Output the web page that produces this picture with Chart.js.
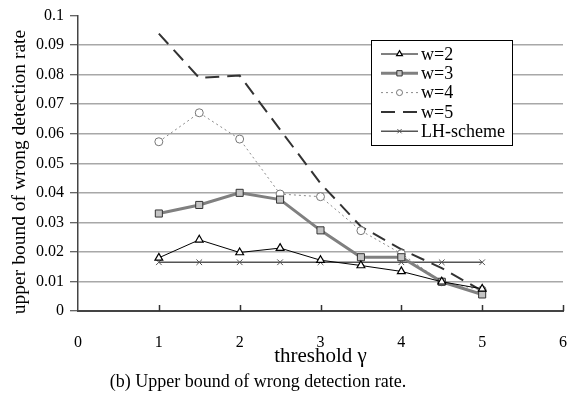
<!DOCTYPE html>
<html>
<head>
<meta charset="utf-8">
<script src="https://cdn.jsdelivr.net/npm/chart.js@4/dist/chart.umd.min.js"></script>
<style>
  html, body { margin: 0; padding: 0; background: #fff; }
  #wrap { width: 573px; height: 401px; }
</style>
</head>
<body>
<div id="wrap"><canvas id="grafico" width="573" height="401"></canvas></div>
<script>
// threshold values (x) and the rates for each scheme
const thresholds = [1, 1.5, 2, 2.5, 3, 3.5, 4, 4.5, 5];
const w2 = [0.0180, 0.0241, 0.0198, 0.0213, 0.0172, 0.0154, 0.0134, 0.0099, 0.0075];
const w3 = [0.0330, 0.0359, 0.0400, 0.0377, 0.0273, 0.0182, 0.0182, 0.0099, 0.0056];
const w4 = [0.0573, 0.0671, 0.0582, 0.0396, 0.0387, 0.0272, 0.0194, 0.0099, 0.0071];
const w5 = [0.0939, 0.0789, 0.0797, 0.0614, 0.0432, 0.0286, 0.0209, 0.0145, 0.0068];
const lhScheme = [0.0165, 0.0165, 0.0165, 0.0165, 0.0165, 0.0165, 0.0165, 0.0165, 0.0165];
const xTicks = [0, 1, 2, 3, 4, 5, 6];
const yTitle = "upper bound of wrong detection rate";
const caption = "(b) Upper bound of wrong detection rate.";

const serif = "'Liberation Serif', 'Times New Roman', serif";

function toPoints(values) {
    return thresholds.map((x, i) => ({ x: x, y: values[i] }));
}

const datasets = [
    {
        label: "w=2", data: toPoints(w2),
        borderColor: "#000", borderWidth: 1,
        pointStyle: "triangle", pointRadius: 4.5,
        pointBackgroundColor: "#fff", pointBorderColor: "#000", pointBorderWidth: 1.2
    },
    {
        label: "w=3", data: toPoints(w3),
        borderColor: "#808080", borderWidth: 3,
        pointStyle: "rect", pointRadius: 5,
        pointBackgroundColor: "#c4c4c4", pointBorderColor: "#333", pointBorderWidth: 1
    },
    {
        label: "w=4", data: toPoints(w4),
        borderColor: "#8a8a8a", borderWidth: 1, borderDash: [2, 3],
        pointStyle: "circle", pointRadius: 4,
        pointBackgroundColor: "#fff", pointBorderColor: "#777", pointBorderWidth: 1
    },
    {
        label: "w=5", data: toPoints(w5),
        borderColor: "#333", borderWidth: 2, borderDash: [14, 8],
        pointRadius: 0
    },
    {
        label: "LH-scheme", data: toPoints(lhScheme),
        borderColor: "#555", borderWidth: 1.5,
        pointStyle: "crossRot", pointRadius: 4,
        pointBorderColor: "#555", pointBorderWidth: 1
    }
];

// inward tick marks on the x axis
const xInnerTicks = {
    id: "xInnerTicks",
    afterDraw(chart) {
        const ctx = chart.ctx, sx = chart.scales.x, bottom = chart.chartArea.bottom;
        ctx.save();
        ctx.strokeStyle = "#333";
        ctx.lineWidth = 1.5;
        xTicks.slice(1).forEach(v => {
            const px = Math.round(sx.getPixelForValue(v)) + 0.5;
            ctx.beginPath();
            ctx.moveTo(px, bottom);
            ctx.lineTo(px, bottom - 6);
            ctx.stroke();
        });
        ctx.restore();
    }
};

// boxed legend inside the plot, with line + marker samples
const boxLegend = {
    id: "boxLegend",
    afterDraw(chart) {
        const ctx = chart.ctx;
        const bx = 371.5, by = 40.5, bw = 141, bh = 105;
        ctx.save();
        ctx.fillStyle = "#fff";
        ctx.fillRect(bx, by, bw, bh);
        ctx.strokeStyle = "#000";
        ctx.lineWidth = 1;
        ctx.strokeRect(bx, by, bw, bh);
        chart.data.datasets.forEach((ds, i) => {
            const y = 54 + i * 19.3;
            ctx.save();
            ctx.strokeStyle = ds.borderColor;
            ctx.lineWidth = ds.borderWidth;
            ctx.setLineDash(ds.borderDash || []);
            ctx.beginPath();
            ctx.moveTo(381, y);
            ctx.lineTo(418, y);
            ctx.stroke();
            ctx.restore();
            if (ds.pointRadius > 0) {
                ctx.save();
                ctx.fillStyle = ds.pointBackgroundColor || "#fff";
                ctx.strokeStyle = ds.pointBorderColor;
                ctx.lineWidth = ds.pointBorderWidth;
                Chart.helpers.drawPoint(ctx, {
                    pointStyle: ds.pointStyle, radius: ds.pointRadius * 0.75,
                    rotation: 0, borderWidth: ds.pointBorderWidth
                }, 399.5, y);
                ctx.restore();
            }
            ctx.fillStyle = "#000";
            ctx.font = "18px " + serif;
            ctx.textBaseline = "middle";
            ctx.textAlign = "left";
            ctx.fillText(ds.label, 421, y + 1);
        });
        ctx.restore();
    }
};

// y axis title (sits a bit below the plot centre) and the figure caption
const extraText = {
    id: "extraText",
    afterDraw(chart) {
        const ctx = chart.ctx;
        ctx.save();
        ctx.fillStyle = "#000";
        ctx.font = "18px " + serif;
        ctx.textAlign = "center";
        ctx.textBaseline = "middle";
        ctx.fillText(caption, 258, 382);
        ctx.translate(20, 172);
        ctx.rotate(-Math.PI / 2);
        ctx.font = "19.5px " + serif;
        ctx.fillText(yTitle, 0, 0);
        ctx.restore();
    }
};

new Chart(document.getElementById("grafico").getContext("2d"), {
    type: "line",
    data: { datasets: datasets },
    options: {
        responsive: false,
        animation: false,
        layout: { padding: { left: 0, right: 10, top: 14, bottom: 31 } },
        plugins: {
            legend: { display: false },
            tooltip: { enabled: false }
        },
        elements: { line: { tension: 0, fill: false } },
        scales: {
            x: {
                type: "linear", min: 0, max: 6,
                afterBuildTicks: scale => { scale.ticks = xTicks.map(v => ({ value: v })); },
                afterFit: scale => { scale.height = 59; },
                grid: { display: false, drawTicks: true, tickLength: 19 },
                border: { color: "#444", width: 2 },
                ticks: {
                    color: "#000", padding: 3,
                    font: { family: serif, size: 16 }
                },
                title: {
                    display: true, text: "threshold γ", color: "#000",
                    font: { family: serif, size: 21 }, padding: { top: 0, bottom: 1 }
                }
            },
            y: {
                min: 0, max: 0.1,
                ticks: {
                    stepSize: 0.01, color: "#000", padding: 6,
                    font: { family: serif, size: 16 },
                    callback: v => String(+v.toFixed(2))
                },
                afterFit: scale => { scale.width = 78; },
                grid: {
                    color: c => (c.tick && c.tick.value > 0.0999) ? "rgba(0,0,0,0)" : "#a8a8a8",
                    lineWidth: 1.5,
                    tickColor: "#333", tickLength: 8, tickWidth: 1
                },
                border: { color: "#444", width: 1.5 },
                title: { display: false }
            }
        }
    },
    plugins: [xInnerTicks, boxLegend, extraText]
});
</script>
</body>
</html>
